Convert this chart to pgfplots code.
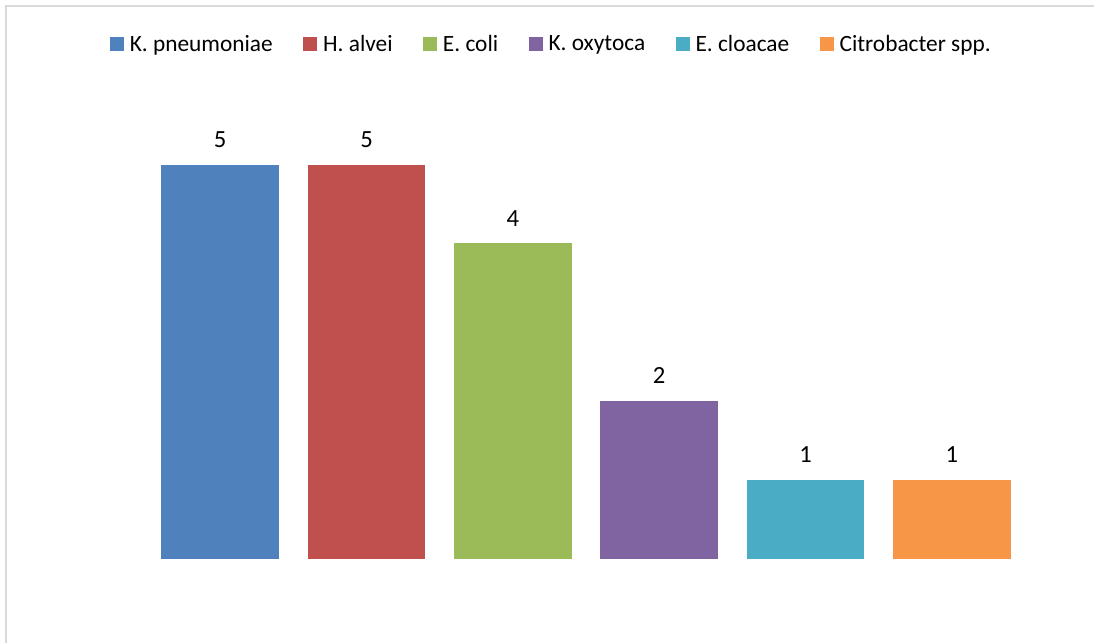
\documentclass[border=0pt]{standalone}
\usepackage{pgfplots}
\pgfplotsset{compat=1.18}
\usepackage{fontspec}
\setmainfont{Carlito}
\definecolor{cA}{HTML}{4F81BD}
\definecolor{cB}{HTML}{C0504D}
\definecolor{cC}{HTML}{9BBB59}
\definecolor{cD}{HTML}{8064A2}
\definecolor{cE}{HTML}{4BACC6}
\definecolor{cF}{HTML}{F79646}
\definecolor{bordergray}{HTML}{D9D9D9}
\pgfplotsset{
  mybar/.style={ybar, bar width=0.806, draw=none, fill=#1,
    nodes near coords,
    every node near coord/.append style={text=black, anchor=base, inner sep=0pt, yshift=13pt, font=\fontsize{18.5pt}{22pt}\selectfont},
    legend image code/.code={\fill[fill=#1,draw=none] (0pt,-5.25pt) rectangle (10.5pt,5.25pt);}
  }
}
\begin{document}
\begin{tikzpicture}[x=0.75pt,y=0.75pt]
\fill[white] (0,0) rectangle (1094,643);
\draw[color=bordergray, line width=1.5pt] (6.3,0) -- (6.3,637.3) -- (1094,637.3);
\begin{axis}[
  at={(110.25pt,63pt)}, anchor=south west,
  scale only axis, width=658.5pt, height=355pt,
  xmin=-0.5, xmax=5.5, ymin=0, ymax=6,
  hide axis, clip=false,
  /pgf/number format/assume math mode=true,
  legend columns=-1,
  legend style={draw=none, fill=none, at={(0.461,1.088)}, anchor=center,
    font=\fontsize{17.5pt}{21pt}\selectfont,
    /tikz/every odd column/.append style={column sep=2.25pt},
    /tikz/every even column/.append style={column sep=21pt}},
]
\addplot[mybar=cA] coordinates {(0,5)};
\addlegendentry{K. pneumoniae}
\addplot[mybar=cB] coordinates {(1,5)};
\addlegendentry{H. alvei}
\addplot[mybar=cC] coordinates {(2,4)};
\addlegendentry{E. coli}
\addplot[mybar=cD] coordinates {(3,2)};
\addlegendentry{K. oxytoca}
\addplot[mybar=cE] coordinates {(4,1)};
\addlegendentry{E. cloacae}
\addplot[mybar=cF] coordinates {(5,1)};
\addlegendentry{Citrobacter spp.}
\end{axis}
\pgfresetboundingbox
\useasboundingbox (0,0) rectangle (1094,643);
\end{tikzpicture}
\end{document}
